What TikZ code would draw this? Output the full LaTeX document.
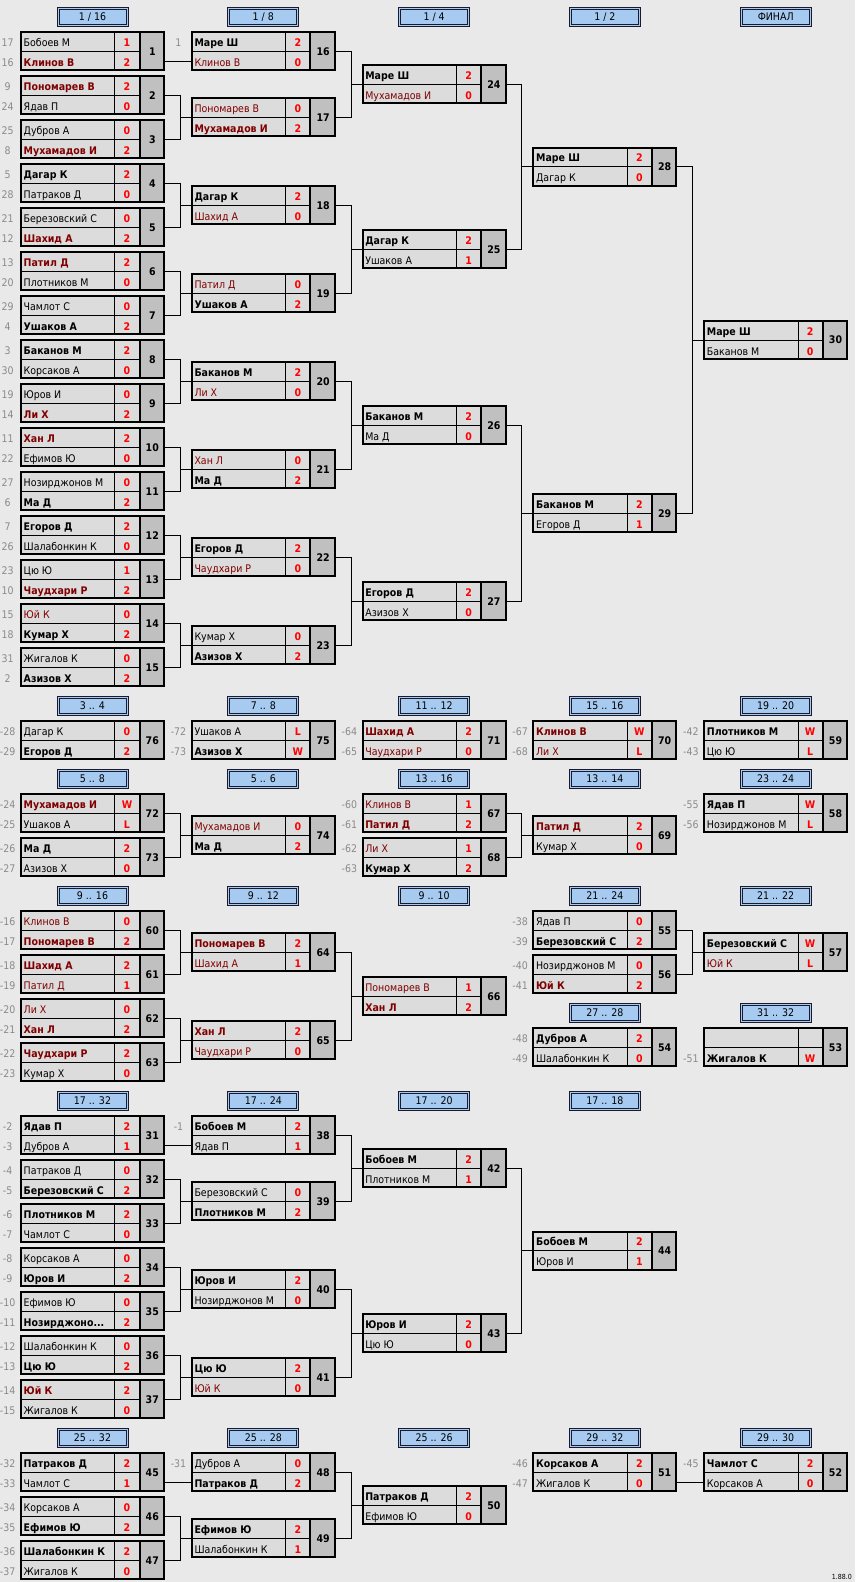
\documentclass[tikz,border=0pt]{standalone}
\usepackage{fontspec}
\setmainfont{DejaVu Sans Condensed}
\usepackage{tikz}

\definecolor{bgc}{HTML}{E9E9E9}
\definecolor{cellc}{HTML}{DCDCDC}
\definecolor{numc}{HTML}{C0C0C0}
\definecolor{hdrc}{HTML}{A6CAF0}
\definecolor{hdrl}{HTML}{1A1A2E}
\definecolor{dred}{HTML}{800000}
\definecolor{seedc}{HTML}{8A8A8A}
\newcommand{\bsz}{\fontsize{10.5}{12.6}\selectfont}
\newcommand{\nzcut}{Нозирджоно...}

\begin{document}
\begin{tikzpicture}
  [x=1pt,y=-1pt,
   every node/.style={inner sep=0pt,font=\bsz},
   matchbox/.style={draw,line width=2pt,fill=cellc,minimum width=143pt,minimum height=38pt},
   hdr/.style={draw=hdrl,double=hdrc,double distance=1pt,line width=1pt,fill=hdrc,
     minimum width=69pt,minimum height=17pt,text height=7.5pt,text depth=0pt},
   seed/.style={text=seedc,anchor=base},
   nmw/.style={anchor=base west,font=\bsz\bfseries},
   nmW/.style={anchor=base west,font=\bsz\bfseries,text=dred},
   nml/.style={anchor=base west},
   nmL/.style={anchor=base west,text=dred},
   score/.style={anchor=base,font=\bsz\bfseries,text=red},
   num/.style={anchor=base,font=\bsz\bfseries}]
  \fill[bgc] (0,0) rectangle (855,1582);
  \useasboundingbox (0,0) rectangle (855,1582);

  \foreach \col/\hy/\htxt in {1/7/{1 / 16},2/7/{1 / 8},3/7/{1 / 4},4/7/{1 / 2},5/7/{ФИНАЛ},
    1/696/{3 .. 4},2/696/{7 .. 8},3/696/{11 .. 12},4/696/{15 .. 16},5/696/{19 .. 20},
    1/769/{5 .. 8},2/769/{5 .. 6},3/769/{13 .. 16},4/769/{13 .. 14},5/769/{23 .. 24},
    1/886/{9 .. 16},2/886/{9 .. 12},3/886/{9 .. 10},4/886/{21 .. 24},5/886/{21 .. 22},
    4/1003/{27 .. 28},5/1003/{31 .. 32},
    1/1091/{17 .. 32},2/1091/{17 .. 24},3/1091/{17 .. 20},4/1091/{17 .. 18},
    1/1428/{25 .. 32},2/1428/{25 .. 28},3/1428/{25 .. 26},4/1428/{29 .. 32},5/1428/{29 .. 30}}{
    \pgfmathsetmacro\hx{92.5+(\col-1)*170.8}
    \node[hdr] (h\col r\hy) at (\hx,\hy+10) {\htxt};
  }

  \foreach \id/\col/\ty/\sda/\pa/\ka/\ra/\sdb/\pb/\kb/\rb in {
    1/1/31/17/Бобоев М/l/1/16/Клинов В/W/2,
    2/1/75/9/Пономарев В/W/2/24/Ядав П/l/0,
    3/1/119/25/Дубров А/l/0/8/Мухамадов И/W/2,
    4/1/163/5/Дагар К/w/2/28/Патраков Д/l/0,
    5/1/207/21/Березовский С/l/0/12/Шахид А/W/2,
    6/1/251/13/Патил Д/W/2/20/Плотников М/l/0,
    7/1/295/29/Чамлот С/l/0/4/Ушаков А/w/2,
    8/1/339/3/Баканов М/w/2/30/Корсаков А/l/0,
    9/1/383/19/Юров И/l/0/14/Ли Х/W/2,
    10/1/427/11/Хан Л/W/2/22/Ефимов Ю/l/0,
    11/1/471/27/Нозирджонов М/l/0/6/Ма Д/w/2,
    12/1/515/7/Егоров Д/w/2/26/Шалабонкин К/l/0,
    13/1/559/23/Цю Ю/l/1/10/Чаудхари Р/W/2,
    14/1/603/15/Юй К/L/0/18/Кумар Х/w/2,
    15/1/647/31/Жигалов К/l/0/2/Азизов Х/w/2,
    16/2/31/1/Маре Ш/w/2//Клинов В/L/0,
    17/2/97//Пономарев В/L/0//Мухамадов И/W/2,
    18/2/185//Дагар К/w/2//Шахид А/L/0,
    19/2/273//Патил Д/L/0//Ушаков А/w/2,
    20/2/361//Баканов М/w/2//Ли Х/L/0,
    21/2/449//Хан Л/L/0//Ма Д/w/2,
    22/2/537//Егоров Д/w/2//Чаудхари Р/L/0,
    23/2/625//Кумар Х/l/0//Азизов Х/w/2,
    24/3/64//Маре Ш/w/2//Мухамадов И/L/0,
    25/3/229//Дагар К/w/2//Ушаков А/l/1,
    26/3/405//Баканов М/w/2//Ма Д/l/0,
    27/3/581//Егоров Д/w/2//Азизов Х/l/0,
    28/4/146.5//Маре Ш/w/2//Дагар К/l/0,
    29/4/493//Баканов М/w/2//Егоров Д/l/1,
    30/5/319.75//Маре Ш/w/2//Баканов М/l/0,
    76/1/720/-28/Дагар К/l/0/-29/Егоров Д/w/2,
    75/2/720/-72/Ушаков А/l/L/-73/Азизов Х/w/W,
    71/3/720/-64/Шахид А/W/2/-65/Чаудхари Р/L/0,
    70/4/720/-67/Клинов В/W/W/-68/Ли Х/L/L,
    59/5/720/-42/Плотников М/w/W/-43/Цю Ю/l/L,
    72/1/793/-24/Мухамадов И/W/W/-25/Ушаков А/l/L,
    73/1/837/-26/Ма Д/w/2/-27/Азизов Х/l/0,
    74/2/815//Мухамадов И/L/0//Ма Д/w/2,
    67/3/793/-60/Клинов В/L/1/-61/Патил Д/W/2,
    68/3/837/-62/Ли Х/L/1/-63/Кумар Х/w/2,
    69/4/815//Патил Д/W/2//Кумар Х/l/0,
    58/5/793/-55/Ядав П/w/W/-56/Нозирджонов М/l/L,
    60/1/910/-16/Клинов В/L/0/-17/Пономарев В/W/2,
    61/1/954/-18/Шахид А/W/2/-19/Патил Д/L/1,
    62/1/998/-20/Ли Х/L/0/-21/Хан Л/W/2,
    63/1/1042/-22/Чаудхари Р/W/2/-23/Кумар Х/l/0,
    64/2/932//Пономарев В/W/2//Шахид А/L/1,
    65/2/1020//Хан Л/W/2//Чаудхари Р/L/0,
    66/3/976//Пономарев В/L/1//Хан Л/W/2,
    55/4/910/-38/Ядав П/l/0/-39/Березовский С/w/2,
    56/4/954/-40/Нозирджонов М/l/0/-41/Юй К/W/2,
    57/5/932//Березовский С/w/W//Юй К/L/L,
    54/4/1027/-48/Дубров А/w/2/-49/Шалабонкин К/l/0,
    53/5/1027///l//-51/Жигалов К/w/W,
    31/1/1115/-2/Ядав П/w/2/-3/Дубров А/l/1,
    32/1/1159/-4/Патраков Д/l/0/-5/Березовский С/w/2,
    33/1/1203/-6/Плотников М/w/2/-7/Чамлот С/l/0,
    34/1/1247/-8/Корсаков А/l/0/-9/Юров И/w/2,
    35/1/1291/-10/Ефимов Ю/l/0/-11/\nzcut/w/2,
    36/1/1335/-12/Шалабонкин К/l/0/-13/Цю Ю/w/2,
    37/1/1379/-14/Юй К/W/2/-15/Жигалов К/l/0,
    38/2/1115/-1/Бобоев М/w/2//Ядав П/l/1,
    39/2/1181//Березовский С/l/0//Плотников М/w/2,
    40/2/1269//Юров И/w/2//Нозирджонов М/l/0,
    41/2/1357//Цю Ю/w/2//Юй К/L/0,
    42/3/1148//Бобоев М/w/2//Плотников М/l/1,
    43/3/1313//Юров И/w/2//Цю Ю/l/0,
    44/4/1230.5//Бобоев М/w/2//Юров И/l/1,
    45/1/1452/-32/Патраков Д/w/2/-33/Чамлот С/l/1,
    46/1/1496/-34/Корсаков А/l/0/-35/Ефимов Ю/w/2,
    47/1/1540/-36/Шалабонкин К/w/2/-37/Жигалов К/l/0,
    48/2/1452/-31/Дубров А/l/0//Патраков Д/w/2,
    49/2/1518//Ефимов Ю/w/2//Шалабонкин К/l/1,
    50/3/1485//Патраков Д/w/2//Ефимов Ю/l/0,
    51/4/1452/-46/Корсаков А/w/2/-47/Жигалов К/l/0,
    52/5/1452/-45/Чамлот С/w/2//Корсаков А/l/0}{
    \pgfmathsetmacro\lx{20+(\col-1)*170.8}
    \node[matchbox] (m\id) at (\lx+72.5,\ty+20) {};
    \fill[numc] (\lx+120.5,\ty+2) rectangle (\lx+143,\ty+38);
    \draw[line width=2pt] (\lx+119.5,\ty) -- (\lx+119.5,\ty+40);
    \draw (\lx+1,\ty+20) -- (\lx+119.5,\ty+20);
    \draw (\lx+94.5,\ty+1) -- (\lx+94.5,\ty+39);
    \node[seed] (sa\id) at (\lx-12.3,\ty+15.3) {\sda};
    \node[seed] (sb\id) at (\lx-12.3,\ty+35.3) {\sdb};
    \node[nm\ka] (pa\id) at (\lx+3.5,\ty+15.3) {\pa};
    \node[nm\kb] (pb\id) at (\lx+3.5,\ty+35.3) {\pb};
    \node[score] (ra\id) at (\lx+107,\ty+15.3) {\ra};
    \node[score] (rb\id) at (\lx+107,\ty+35.3) {\rb};
    \node[num] (n\id) at (\lx+132.3,\ty+24) {\id};
  }

  \foreach \ma/\mb/\mt in {2/3/17,4/5/18,6/7/19,8/9/20,10/11/21,12/13/22,14/15/23,
    16/17/24,18/19/25,20/21/26,22/23/27,24/25/28,26/27/29,28/29/30,
    72/73/74,67/68/69,60/61/64,62/63/65,64/65/66,55/56/57,
    32/33/39,34/35/40,36/37/41,38/39/42,40/41/43,42/43/44,46/47/49,48/49/50}{
    \draw (m\ma.east) -- ++(15,0) |- (m\mt.west);
    \draw (m\mb.east) -- ++(15,0) |- (m\mt.west);
  }
  \foreach \ma/\mt in {1/16,31/38,45/48,51/52}
    \draw ([yshift=-10pt]m\ma.east) -- ([yshift=-10pt]m\mt.west);

  \node[anchor=base east,font=\fontsize{7}{8}\selectfont] (ver) at (852,1579) {1.88.0};
\end{tikzpicture}
\end{document}
